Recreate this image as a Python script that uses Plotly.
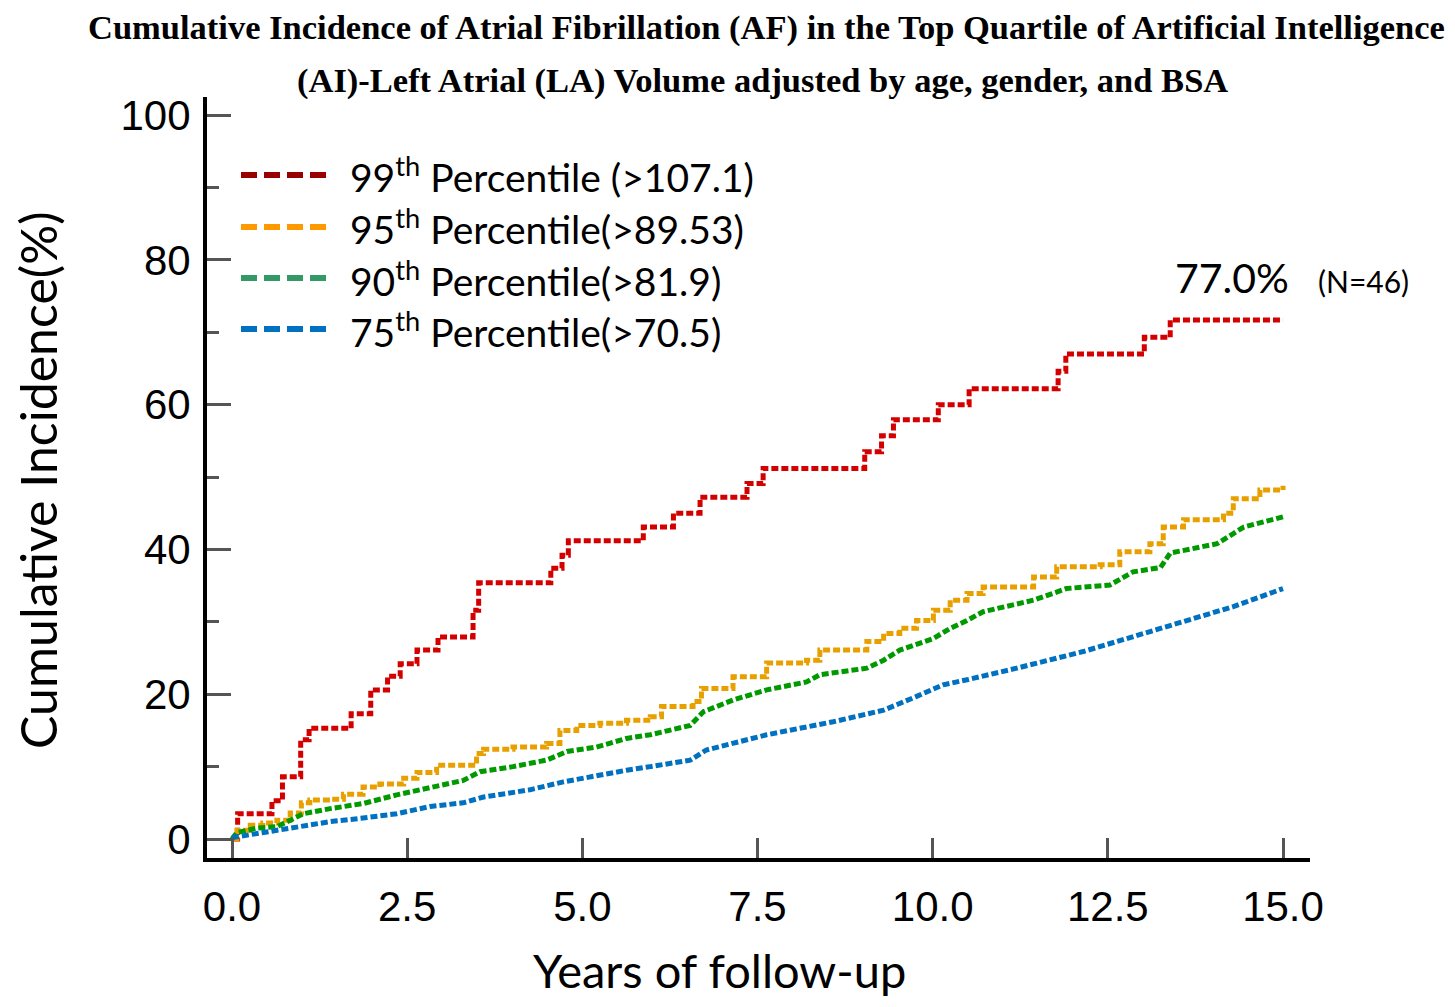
import plotly.graph_objects as go

# ---------------- data ----------------
red_t = [0, 0.08, 0.57, 0.72, 0.98, 1.10, 1.70, 1.98, 2.22, 2.40, 2.64, 2.94, 3.44, 3.52, 4.55, 4.71, 4.80,
         5.87, 6.30, 6.68, 7.35, 7.58, 9.03, 9.27, 9.44, 10.08, 10.52, 11.79, 11.90, 13.02, 13.39, 15.0]
red_v = [0, 3.5, 5.3, 8.6, 13.7, 15.3, 17.3, 20.6, 22.5, 24.2, 26.1, 27.9, 31.6, 35.4, 37.4, 39.2, 41.2,
         43.1, 45.0, 47.2, 49.1, 51.2, 53.5, 55.7, 57.9, 60.0, 62.2, 64.6, 67.0, 69.3, 71.7, 71.7]

orange_t = [0, 0.07, 0.26, 0.44, 0.64, 0.83, 0.99, 1.11, 1.40, 1.59, 1.87, 2.11, 2.45, 2.64, 2.92, 3.30, 3.49,
            3.59, 4.01, 4.49, 4.68, 4.92, 5.25, 5.63, 5.97, 6.13, 6.58, 6.70, 7.15, 7.63, 8.20, 8.39, 9.06,
            9.30, 9.53, 9.77, 10.01, 10.25, 10.49, 10.72, 11.44, 11.77, 12.39, 12.67, 13.10, 13.29, 13.58,
            14.15, 14.29, 14.67, 15.0]
orange_v = [0, 1.2, 1.9, 2.2, 2.6, 3.6, 5.0, 5.4, 5.5, 6.2, 7.2, 7.6, 8.4, 9.2, 10.2, 10.2, 11.8,
            12.4, 12.7, 13.2, 15.0, 15.7, 16.0, 16.4, 16.9, 18.3, 19.0, 20.8, 22.4, 24.3, 24.7, 26.1, 27.3,
            28.4, 29.1, 30.2, 31.6, 33.0, 33.9, 34.8, 36.2, 37.6, 37.9, 39.7, 40.8, 43.1, 44.1,
            45.0, 47.0, 48.2, 48.8]

green_t = [0, 0.07, 0.35, 0.64, 0.83, 1.02, 1.40, 1.87, 2.35, 2.83, 3.30, 3.54, 4.01, 4.49, 4.78, 5.20,
           5.63, 5.97, 6.54, 6.73, 7.15, 7.63, 8.20, 8.39, 9.06, 9.30, 9.53, 10.01, 10.25, 10.49, 10.72,
           11.44, 11.91, 12.53, 12.86, 13.25, 13.39, 14.06, 14.44, 15.0]
green_v = [0, 0.9, 1.5, 1.7, 2.6, 3.5, 4.2, 4.9, 6.1, 7.2, 8.1, 9.3, 10.0, 10.9, 12.1, 12.7,
           13.9, 14.4, 15.7, 17.6, 19.2, 20.6, 21.7, 22.7, 23.6, 24.7, 26.1, 27.7, 29.1, 30.2, 31.4,
           33.0, 34.6, 35.1, 36.9, 37.5, 39.5, 40.8, 43.1, 44.5]

blue_t = [0, 0.45, 0.69, 0.92, 1.40, 1.87, 2.35, 2.83, 3.30, 3.59, 4.25, 4.73, 5.20, 5.63, 5.97, 6.54,
          6.77, 7.63, 8.58, 9.30, 9.77, 10.15, 10.49, 10.91, 11.20, 12.15, 12.77, 13.58, 14.29, 15.0]
blue_v = [0.2, 0.9, 1.2, 1.7, 2.4, 2.9, 3.5, 4.5, 5.0, 5.8, 6.8, 7.9, 8.8, 9.5, 10.0, 10.9,
          12.3, 14.4, 16.2, 17.8, 19.7, 21.3, 22.0, 22.9, 23.6, 25.9, 27.7, 30.0, 32.1, 34.6]

series_names = ["99<sup>th</sup> Percentile (>107.1)", "95<sup>th</sup> Percentile(>89.53)",
                "90<sup>th</sup> Percentile(>81.9)", "75<sup>th</sup> Percentile(>70.5)"]
line_colors = ["#D40000", "#E8A000", "#009900", "#0070C0"]
legend_colors = ["#990000", "#FF9900", "#339966", "#0070C0"]

x_ticks = [0, 2.5, 5.0, 7.5, 10.0, 12.5, 15.0]
y_ticks = [0, 20, 40, 60, 80, 100]

title_line1 = "Cumulative Incidence of Atrial Fibrillation (AF) in the Top Quartile of Artificial Intelligence"
title_line2 = "(AI)-Left Atrial (LA) Volume adjusted by age, gender, and BSA"

# ---------------- figure ----------------
OFF = 8  # page body margin
W, H = 1455 - 2 * OFF, 1007 - 2 * OFF
# plot area in page pixels
P_LEFT, P_RIGHT, P_TOP, P_BOTTOM = 207, 1310, 97, 858
L = P_LEFT - OFF
T = P_TOP - OFF
R = W - (P_RIGHT - OFF)
B = H - (P_BOTTOM - OFF)
PW, PH = W - L - R, H - T - B


def px(x):
    return (x - OFF - L) / PW


def py(y):
    return (H - B - (y - OFF)) / PH


fig = go.Figure()
data = [(red_t, red_v, "hv"), (orange_t, orange_v, "hv"), (green_t, green_v, "linear"), (blue_t, blue_v, "linear")]
for (t, v, shape), c, n in zip(data, line_colors, series_names):
    fig.add_trace(go.Scatter(x=t, y=v, mode="lines", name=n, showlegend=False,
                             line=dict(color=c, width=5, dash="7px,3px", shape=shape)))

shapes = []
annotations = []
# manual legend
leg_y = [175, 227, 278, 329]
for yy, c, n in zip(leg_y, legend_colors, series_names):
    shapes.append(dict(type="line", xref="paper", yref="paper", x0=px(241), x1=px(330), y0=py(yy), y1=py(yy),
                       line=dict(color=c, width=6, dash="16px,7px")))
    annotations.append(dict(xref="paper", yref="paper", x=px(348), y=py(yy), xanchor="left", yanchor="middle",
                            text=n, showarrow=False, font=dict(family="Lato", size=39, color="black")))

annotations += [
    dict(xref="paper", yref="paper", x=px(766), y=py(28), text="<b>" + title_line1 + "</b>", showarrow=False,
         xanchor="center", yanchor="middle", font=dict(family="Liberation Serif", size=34.5, color="black")),
    dict(xref="paper", yref="paper", x=px(762), y=py(80), text="<b>" + title_line2 + "</b>", showarrow=False,
         xanchor="center", yanchor="middle", font=dict(family="Liberation Serif", size=34.5, color="black")),
    dict(xref="paper", yref="paper", x=px(1232), y=py(277), text="77.0%", showarrow=False,
         xanchor="center", yanchor="middle", font=dict(family="Lato", size=41, color="black")),
    dict(xref="paper", yref="paper", x=px(1363), y=py(281), text="(N=46)", showarrow=False,
         xanchor="center", yanchor="middle", font=dict(family="Lato", size=30, color="black")),
    dict(xref="paper", yref="paper", x=px(38), y=py(480), text="Cumulative Incidence(%)", showarrow=False,
         textangle=-90, xanchor="center", yanchor="middle", font=dict(family="Lato", size=50, color="black")),
    dict(xref="paper", yref="paper", x=px(719), y=py(970), text="Years of follow-up", showarrow=False,
         xanchor="center", yanchor="middle", font=dict(family="Lato", size=47, color="black")),
]

fig.update_layout(
    width=W, height=H,
    margin=dict(l=L, r=R, t=T, b=B, pad=0),
    plot_bgcolor="white", paper_bgcolor="white",
    shapes=shapes, annotations=annotations,
    showlegend=False,
    xaxis=dict(range=[-0.357, 15.385], tickvals=x_ticks, ticktext=[f"{v:.1f}" for v in x_ticks],
               showgrid=False, zeroline=False, showline=True, linecolor="black", linewidth=4,
               ticks="inside", ticklen=20, tickwidth=3, tickcolor="#555",
               ticklabelstandoff=9,
               tickfont=dict(family="Liberation Sans", size=42, color="black")),
    yaxis=dict(range=[-2.62, 102.5], tickvals=y_ticks, showgrid=False, zeroline=False, showline=True,
               linecolor="black", linewidth=4, ticks="inside", ticklen=24, tickwidth=3, tickcolor="#555",
               minor=dict(dtick=10, tick0=0, ticks="inside", ticklen=12, tickwidth=3, tickcolor="#555"),
               ticklabelstandoff=4,
               tickfont=dict(family="Liberation Sans", size=42, color="black")),
)

fig.write_html("out.html")
